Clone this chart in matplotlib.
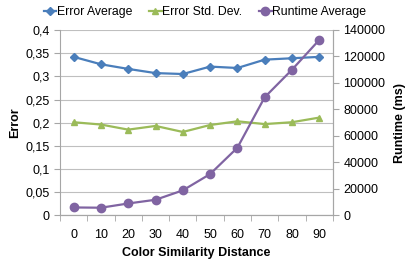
import matplotlib
matplotlib.use("Agg")
import matplotlib.pyplot as plt
import numpy as np

plt.rcParams['font.family'] = ['Liberation Sans', 'DejaVu Sans']

distance = [0, 10, 20, 30, 40, 50, 60, 70, 80, 90]
error_avg = [0.342, 0.326, 0.316, 0.307, 0.305, 0.321, 0.318, 0.336, 0.339, 0.342]
error_std = [0.201, 0.196, 0.185, 0.193, 0.180, 0.195, 0.203, 0.197, 0.201, 0.211]
runtime_avg = [6000, 5800, 9000, 11800, 18900, 31200, 51100, 89200, 110000, 132500]

blue = '#4A7EBB'
green = '#9BBB59'
purple = '#8064A2'
grey = '#A6A6A6'

fig = plt.figure(figsize=(4.11, 2.63), dpi=100)
ax = fig.add_axes([0.146, 0.181, 0.664, 0.705])
ax2 = ax.twinx()

x = np.arange(len(distance))
l1, = ax.plot(x, error_avg, color=blue, marker='D', markersize=4, lw=1.6, label='Error Average')
l2, = ax.plot(x, error_std, color=green, marker='^', markersize=5, lw=1.6, label='Error Std. Dev.')
l3, = ax2.plot(x, runtime_avg, color=purple, marker='o', markersize=6, lw=1.6, label='Runtime Average')

ax.set_xlim(-0.5, len(distance) - 0.5)
ax.set_ylim(0, 0.4)
ax2.set_ylim(0, 140000)
ax.set_yticks(np.arange(0, 0.401, 0.05))
ax.set_yticklabels(['0', '0,05', '0,1', '0,15', '0,2', '0,25', '0,3', '0,35', '0,4'])
ax2.set_yticks(np.arange(0, 140001, 20000))
ax2.set_yticklabels([str(v) for v in range(0, 140001, 20000)])

ax.set_xticks(x)
ax.set_xticklabels([str(d) for d in distance])
ax.set_xticks(np.arange(-0.5, len(distance), 1), minor=True)
ax.tick_params(axis='x', which='major', length=0, pad=10, labelsize=9)
ax.tick_params(axis='x', which='minor', length=4, color=grey, direction='out')
ax.tick_params(axis='y', length=4, color=grey, labelsize=9)
ax2.tick_params(axis='y', length=4, color=grey, labelsize=9)

ax.grid(axis='y', color='#BFBFBF', lw=0.8)
ax.set_axisbelow(True)
for a in (ax, ax2):
    a.spines['top'].set_visible(False)
    for s in ('left', 'right', 'bottom'):
        a.spines[s].set_color(grey)
ax2.spines['left'].set_visible(False)

ax.set_xlabel('Color Similarity Distance', fontsize=9, fontweight='bold', labelpad=4)
ax.set_ylabel('Error', fontsize=9, fontweight='bold', labelpad=3)
ax2.set_ylabel('Runtime (ms)', fontsize=9, fontweight='bold', labelpad=6)

fig.legend(handles=[l1, l2, l3], loc='center', bbox_to_anchor=(0.499, 0.953), ncol=3,
           frameon=False, fontsize=8.8, handlelength=1.0, handletextpad=0.05,
           columnspacing=1.4, borderaxespad=0, borderpad=0)

fig.savefig('out.png', dpi=100)
